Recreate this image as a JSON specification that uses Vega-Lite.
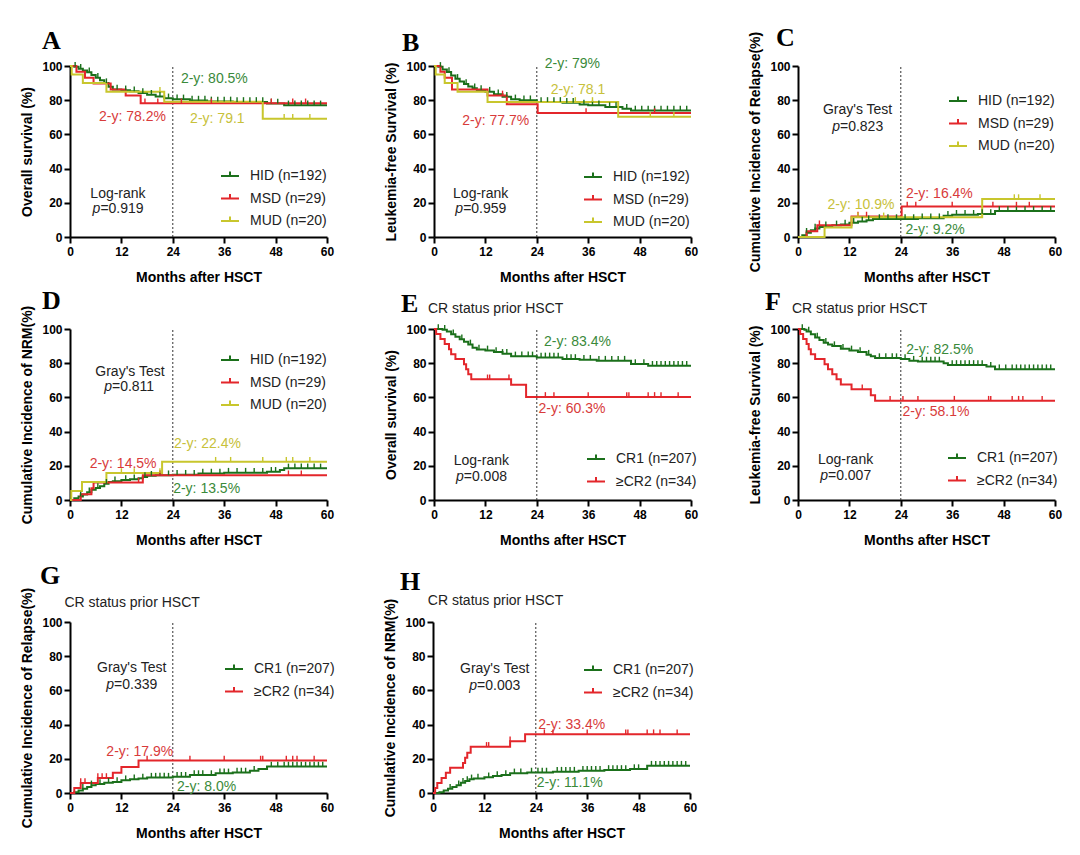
{
  "$schema": "https://vega.github.io/schema/vega-lite/v6.json",
  "background": "white",
  "padding": {"top": 25, "left": 20, "right": 5, "bottom": 5},
  "config": {
    "font": "Liberation Sans",
    "view": {"stroke": null},
    "axis": {"grid": false, "domainColor": "#000", "domainWidth": 2, "tickColor": "#000", "tickWidth": 2, "tickSize": 6,
      "labelFont": "Liberation Sans", "labelFontSize": 12, "labelFontWeight": "bold", "labelColor": "#000", "labelPadding": 2, "labelFlush": false, "labelOverlap": false,
      "titleFont": "Liberation Sans", "titleFontSize": 14, "titleFontWeight": "bold", "titleColor": "#000"},
    "axisX": {"labelPadding": 3, "titlePadding": 13},
    "axisY": {"titlePadding": 7},
    "legend": {"labelFont": "Liberation Sans", "labelFontSize": 14, "labelColor": "#222", "symbolSize": 324, "symbolStrokeWidth": 2, "rowPadding": 5.5, "padding": 0, "labelOffset": 10},
    "title": {"font": "Liberation Serif", "fontSize": 26, "fontWeight": "bold", "anchor": "start", "frame": "group", "baseline": "alphabetic", "color": "#000"},
    "text": {"font": "Liberation Sans", "fontSize": 14}
  },
  "datasets": {
    "curve": [
      {"p":"A","g":"HID","t":0,"v":100},{"p":"A","g":"HID","t":1,"v":99.5},{"p":"A","g":"HID","t":2,"v":98.4},{"p":"A","g":"HID","t":3,"v":97.4},{"p":"A","g":"HID","t":4,"v":96.3},{"p":"A","g":"HID","t":5,"v":94.7},{"p":"A","g":"HID","t":6,"v":93.2},{"p":"A","g":"HID","t":7,"v":91.6},{"p":"A","g":"HID","t":8,"v":90},{"p":"A","g":"HID","t":9,"v":87.9},{"p":"A","g":"HID","t":10,"v":86.3},{"p":"A","g":"HID","t":12,"v":85.8},{"p":"A","g":"HID","t":14,"v":85.2},{"p":"A","g":"HID","t":16,"v":84.2},{"p":"A","g":"HID","t":18,"v":83.2},{"p":"A","g":"HID","t":20,"v":82.1},{"p":"A","g":"HID","t":22,"v":81.1},{"p":"A","g":"HID","t":24,"v":80.5},{"p":"A","g":"HID","t":28,"v":79.8},{"p":"A","g":"HID","t":32,"v":79.3},{"p":"A","g":"HID","t":38,"v":79},{"p":"A","g":"HID","t":46,"v":78.1},{"p":"A","g":"HID","t":50,"v":77},{"p":"A","g":"HID","t":60,"v":77},
      {"p":"A","g":"MSD","t":0,"v":100},{"p":"A","g":"MSD","t":1.5,"v":96.6},{"p":"A","g":"MSD","t":3.5,"v":93.1},{"p":"A","g":"MSD","t":5.5,"v":89.7},{"p":"A","g":"MSD","t":9.5,"v":86.2},{"p":"A","g":"MSD","t":13,"v":82.8},{"p":"A","g":"MSD","t":16.5,"v":78.2},{"p":"A","g":"MSD","t":60,"v":78.2},
      {"p":"A","g":"MUD","t":0,"v":100},{"p":"A","g":"MUD","t":0.4,"v":95},{"p":"A","g":"MUD","t":3,"v":90},{"p":"A","g":"MUD","t":8.5,"v":85},{"p":"A","g":"MUD","t":22,"v":79.1},{"p":"A","g":"MUD","t":45,"v":69.2},{"p":"A","g":"MUD","t":60,"v":69.2},
      {"p":"B","g":"HID","t":0,"v":100},{"p":"B","g":"HID","t":1,"v":99.5},{"p":"B","g":"HID","t":2,"v":98},{"p":"B","g":"HID","t":3,"v":96.5},{"p":"B","g":"HID","t":4,"v":94.5},{"p":"B","g":"HID","t":5,"v":92.5},{"p":"B","g":"HID","t":6,"v":91},{"p":"B","g":"HID","t":7,"v":89.5},{"p":"B","g":"HID","t":8,"v":88},{"p":"B","g":"HID","t":9,"v":87},{"p":"B","g":"HID","t":10,"v":86},{"p":"B","g":"HID","t":12,"v":85},{"p":"B","g":"HID","t":14,"v":83.5},{"p":"B","g":"HID","t":16,"v":82},{"p":"B","g":"HID","t":18,"v":80.5},{"p":"B","g":"HID","t":20,"v":80},{"p":"B","g":"HID","t":24,"v":79},{"p":"B","g":"HID","t":30,"v":78.5},{"p":"B","g":"HID","t":34,"v":77.5},{"p":"B","g":"HID","t":36,"v":77},{"p":"B","g":"HID","t":40,"v":76},{"p":"B","g":"HID","t":44,"v":75},{"p":"B","g":"HID","t":46,"v":74},{"p":"B","g":"HID","t":60,"v":74},
      {"p":"B","g":"MSD","t":0,"v":100},{"p":"B","g":"MSD","t":1.5,"v":96.6},{"p":"B","g":"MSD","t":2.5,"v":93.1},{"p":"B","g":"MSD","t":4.2,"v":86.2},{"p":"B","g":"MSD","t":12.5,"v":82.8},{"p":"B","g":"MSD","t":17,"v":77.7},{"p":"B","g":"MSD","t":24.2,"v":72.5},{"p":"B","g":"MSD","t":60,"v":72.5},
      {"p":"B","g":"MUD","t":0,"v":100},{"p":"B","g":"MUD","t":0.4,"v":95},{"p":"B","g":"MUD","t":2.5,"v":90},{"p":"B","g":"MUD","t":5.5,"v":85},{"p":"B","g":"MUD","t":12.5,"v":79},{"p":"B","g":"MUD","t":43,"v":70.3},{"p":"B","g":"MUD","t":60,"v":70.3},
      {"p":"C","g":"HID","t":0,"v":0},{"p":"C","g":"HID","t":1,"v":1},{"p":"C","g":"HID","t":2,"v":2.5},{"p":"C","g":"HID","t":3,"v":4},{"p":"C","g":"HID","t":4,"v":5},{"p":"C","g":"HID","t":5,"v":5.8},{"p":"C","g":"HID","t":6,"v":6.3},{"p":"C","g":"HID","t":8,"v":6.8},{"p":"C","g":"HID","t":10,"v":7.3},{"p":"C","g":"HID","t":12,"v":8.3},{"p":"C","g":"HID","t":14,"v":9},{"p":"C","g":"HID","t":16,"v":9.8},{"p":"C","g":"HID","t":17.5,"v":10.5},{"p":"C","g":"HID","t":28,"v":11},{"p":"C","g":"HID","t":34,"v":12.5},{"p":"C","g":"HID","t":36,"v":13},{"p":"C","g":"HID","t":42,"v":13.5},{"p":"C","g":"HID","t":46,"v":15.2},{"p":"C","g":"HID","t":60,"v":15.2},
      {"p":"C","g":"MSD","t":0,"v":0},{"p":"C","g":"MSD","t":2,"v":3.4},{"p":"C","g":"MSD","t":4.5,"v":6.9},{"p":"C","g":"MSD","t":12.5,"v":12},{"p":"C","g":"MSD","t":24.2,"v":17.8},{"p":"C","g":"MSD","t":60,"v":17.8},
      {"p":"C","g":"MUD","t":0,"v":0},{"p":"C","g":"MUD","t":6.2,"v":5.6},{"p":"C","g":"MUD","t":12.5,"v":11.5},{"p":"C","g":"MUD","t":43,"v":22.2},{"p":"C","g":"MUD","t":60,"v":22.2},
      {"p":"D","g":"HID","t":0,"v":0},{"p":"D","g":"HID","t":1,"v":1},{"p":"D","g":"HID","t":2,"v":2},{"p":"D","g":"HID","t":3,"v":3.2},{"p":"D","g":"HID","t":4,"v":4.5},{"p":"D","g":"HID","t":5,"v":6},{"p":"D","g":"HID","t":6,"v":7},{"p":"D","g":"HID","t":7,"v":8},{"p":"D","g":"HID","t":8,"v":9.5},{"p":"D","g":"HID","t":9,"v":10.5},{"p":"D","g":"HID","t":10,"v":11},{"p":"D","g":"HID","t":12,"v":11.7},{"p":"D","g":"HID","t":14,"v":12.2},{"p":"D","g":"HID","t":16,"v":12.7},{"p":"D","g":"HID","t":17,"v":13.5},{"p":"D","g":"HID","t":18,"v":14.2},{"p":"D","g":"HID","t":20,"v":14.5},{"p":"D","g":"HID","t":24,"v":14.8},{"p":"D","g":"HID","t":30,"v":15.5},{"p":"D","g":"HID","t":36,"v":16},{"p":"D","g":"HID","t":46,"v":16.5},{"p":"D","g":"HID","t":49,"v":17.5},{"p":"D","g":"HID","t":50,"v":18.5},{"p":"D","g":"HID","t":60,"v":18.5},
      {"p":"D","g":"MSD","t":0,"v":0},{"p":"D","g":"MSD","t":2.5,"v":3.4},{"p":"D","g":"MSD","t":5,"v":6.9},{"p":"D","g":"MSD","t":5.5,"v":10.3},{"p":"D","g":"MSD","t":17,"v":14.5},{"p":"D","g":"MSD","t":60,"v":14.5},
      {"p":"D","g":"MUD","t":0,"v":0},{"p":"D","g":"MUD","t":0.3,"v":5.3},{"p":"D","g":"MUD","t":2.8,"v":10.5},{"p":"D","g":"MUD","t":8.5,"v":15.8},{"p":"D","g":"MUD","t":21.5,"v":22.4},{"p":"D","g":"MUD","t":60,"v":22.4},
      {"p":"E","g":"CR1","t":0,"v":100},{"p":"E","g":"CR1","t":2,"v":99.5},{"p":"E","g":"CR1","t":3,"v":98.5},{"p":"E","g":"CR1","t":4,"v":97},{"p":"E","g":"CR1","t":5,"v":95.5},{"p":"E","g":"CR1","t":6,"v":94},{"p":"E","g":"CR1","t":7,"v":92.5},{"p":"E","g":"CR1","t":8,"v":91},{"p":"E","g":"CR1","t":9,"v":89},{"p":"E","g":"CR1","t":10,"v":88},{"p":"E","g":"CR1","t":12,"v":87.5},{"p":"E","g":"CR1","t":14,"v":86.5},{"p":"E","g":"CR1","t":16,"v":85.5},{"p":"E","g":"CR1","t":18,"v":84},{"p":"E","g":"CR1","t":24,"v":83.4},{"p":"E","g":"CR1","t":30,"v":82.5},{"p":"E","g":"CR1","t":34,"v":82},{"p":"E","g":"CR1","t":38,"v":81.5},{"p":"E","g":"CR1","t":46,"v":79.5},{"p":"E","g":"CR1","t":50,"v":78.5},{"p":"E","g":"CR1","t":60,"v":78.5},
      {"p":"E","g":"≥CR2","t":0,"v":100},{"p":"E","g":"≥CR2","t":0.5,"v":97.1},{"p":"E","g":"≥CR2","t":1.5,"v":94.1},{"p":"E","g":"≥CR2","t":2.5,"v":91.2},{"p":"E","g":"≥CR2","t":3.5,"v":88.2},{"p":"E","g":"≥CR2","t":4,"v":85.3},{"p":"E","g":"≥CR2","t":5,"v":82.4},{"p":"E","g":"≥CR2","t":7,"v":79.4},{"p":"E","g":"≥CR2","t":7.5,"v":76.5},{"p":"E","g":"≥CR2","t":8,"v":73.5},{"p":"E","g":"≥CR2","t":8.7,"v":70.6},{"p":"E","g":"≥CR2","t":18,"v":67.4},{"p":"E","g":"≥CR2","t":21.5,"v":60.3},{"p":"E","g":"≥CR2","t":60,"v":60.3},
      {"p":"F","g":"CR1","t":0,"v":100},{"p":"F","g":"CR1","t":1.5,"v":99.5},{"p":"F","g":"CR1","t":2,"v":98.5},{"p":"F","g":"CR1","t":3,"v":97},{"p":"F","g":"CR1","t":4,"v":95},{"p":"F","g":"CR1","t":5,"v":93.5},{"p":"F","g":"CR1","t":6,"v":92},{"p":"F","g":"CR1","t":7,"v":91},{"p":"F","g":"CR1","t":8,"v":90},{"p":"F","g":"CR1","t":10,"v":88.5},{"p":"F","g":"CR1","t":12,"v":87.5},{"p":"F","g":"CR1","t":14,"v":86.5},{"p":"F","g":"CR1","t":16,"v":85},{"p":"F","g":"CR1","t":17,"v":84},{"p":"F","g":"CR1","t":18,"v":83},{"p":"F","g":"CR1","t":24,"v":82.5},{"p":"F","g":"CR1","t":26,"v":81.5},{"p":"F","g":"CR1","t":28,"v":81},{"p":"F","g":"CR1","t":34,"v":80},{"p":"F","g":"CR1","t":35,"v":79},{"p":"F","g":"CR1","t":44,"v":78},{"p":"F","g":"CR1","t":46,"v":76.5},{"p":"F","g":"CR1","t":60,"v":76.5},
      {"p":"F","g":"≥CR2","t":0,"v":100},{"p":"F","g":"≥CR2","t":0.5,"v":97.1},{"p":"F","g":"≥CR2","t":1.2,"v":94.1},{"p":"F","g":"≥CR2","t":2,"v":91.2},{"p":"F","g":"≥CR2","t":2.5,"v":88.2},{"p":"F","g":"≥CR2","t":3,"v":85.3},{"p":"F","g":"≥CR2","t":4,"v":82.4},{"p":"F","g":"≥CR2","t":6.2,"v":79.4},{"p":"F","g":"≥CR2","t":7,"v":76.5},{"p":"F","g":"≥CR2","t":8,"v":73.5},{"p":"F","g":"≥CR2","t":9,"v":70.6},{"p":"F","g":"≥CR2","t":10,"v":67.6},{"p":"F","g":"≥CR2","t":12.5,"v":64.7},{"p":"F","g":"≥CR2","t":17,"v":61.2},{"p":"F","g":"≥CR2","t":18,"v":58.1},{"p":"F","g":"≥CR2","t":60,"v":58.1},
      {"p":"G","g":"CR1","t":0,"v":0},{"p":"G","g":"CR1","t":1,"v":0.5},{"p":"G","g":"CR1","t":2,"v":1.5},{"p":"G","g":"CR1","t":3,"v":2.5},{"p":"G","g":"CR1","t":4,"v":3.5},{"p":"G","g":"CR1","t":5,"v":4.5},{"p":"G","g":"CR1","t":6,"v":5.3},{"p":"G","g":"CR1","t":8,"v":6},{"p":"G","g":"CR1","t":10,"v":6.5},{"p":"G","g":"CR1","t":12,"v":7.5},{"p":"G","g":"CR1","t":14,"v":8},{"p":"G","g":"CR1","t":16,"v":8.5},{"p":"G","g":"CR1","t":18,"v":9},{"p":"G","g":"CR1","t":24,"v":9.5},{"p":"G","g":"CR1","t":28,"v":10.5},{"p":"G","g":"CR1","t":34,"v":11.5},{"p":"G","g":"CR1","t":38,"v":12},{"p":"G","g":"CR1","t":42,"v":13},{"p":"G","g":"CR1","t":44,"v":14},{"p":"G","g":"CR1","t":46,"v":15.5},{"p":"G","g":"CR1","t":60,"v":15.5},
      {"p":"G","g":"≥CR2","t":0,"v":0},{"p":"G","g":"≥CR2","t":1,"v":2.9},{"p":"G","g":"≥CR2","t":2.5,"v":5.9},{"p":"G","g":"≥CR2","t":6.5,"v":8.8},{"p":"G","g":"≥CR2","t":10,"v":11.8},{"p":"G","g":"≥CR2","t":12,"v":15.2},{"p":"G","g":"≥CR2","t":16,"v":19},{"p":"G","g":"≥CR2","t":60,"v":19},
      {"p":"H","g":"CR1","t":0,"v":0},{"p":"H","g":"CR1","t":1.5,"v":0.5},{"p":"H","g":"CR1","t":2.5,"v":1.5},{"p":"H","g":"CR1","t":3.5,"v":2.5},{"p":"H","g":"CR1","t":4.5,"v":3.5},{"p":"H","g":"CR1","t":5.5,"v":4.5},{"p":"H","g":"CR1","t":6.5,"v":6},{"p":"H","g":"CR1","t":7.5,"v":7},{"p":"H","g":"CR1","t":8.5,"v":8},{"p":"H","g":"CR1","t":9.5,"v":8.5},{"p":"H","g":"CR1","t":12,"v":9.2},{"p":"H","g":"CR1","t":14,"v":10},{"p":"H","g":"CR1","t":16,"v":10.5},{"p":"H","g":"CR1","t":18,"v":11.5},{"p":"H","g":"CR1","t":22,"v":12},{"p":"H","g":"CR1","t":28,"v":12.5},{"p":"H","g":"CR1","t":34,"v":13},{"p":"H","g":"CR1","t":40,"v":13.5},{"p":"H","g":"CR1","t":46,"v":14},{"p":"H","g":"CR1","t":50,"v":16},{"p":"H","g":"CR1","t":60,"v":16},
      {"p":"H","g":"≥CR2","t":0,"v":0},{"p":"H","g":"≥CR2","t":0.5,"v":2.9},{"p":"H","g":"≥CR2","t":1,"v":5.9},{"p":"H","g":"≥CR2","t":2,"v":8.8},{"p":"H","g":"≥CR2","t":3,"v":11.8},{"p":"H","g":"≥CR2","t":4,"v":14.7},{"p":"H","g":"≥CR2","t":7,"v":17.6},{"p":"H","g":"≥CR2","t":7.5,"v":20.6},{"p":"H","g":"≥CR2","t":8,"v":23.5},{"p":"H","g":"≥CR2","t":8.8,"v":27},{"p":"H","g":"≥CR2","t":18,"v":30.3},{"p":"H","g":"≥CR2","t":21.5,"v":34.4},{"p":"H","g":"≥CR2","t":60,"v":34.4}
    ],
    "cens": [
      {"p":"A","g":"HID","t":1.2,"v":99.5},{"p":"A","g":"HID","t":2.5,"v":98.4},{"p":"A","g":"HID","t":4.5,"v":96.3},{"p":"A","g":"HID","t":6.5,"v":93.2},{"p":"A","g":"HID","t":8.5,"v":90},{"p":"A","g":"HID","t":11,"v":86.3},{"p":"A","g":"HID","t":13,"v":85.8},{"p":"A","g":"HID","t":15,"v":85.2},{"p":"A","g":"HID","t":17,"v":84.2},{"p":"A","g":"HID","t":19,"v":83.2},{"p":"A","g":"HID","t":21,"v":82.1},{"p":"A","g":"HID","t":23,"v":81.1},{"p":"A","g":"HID","t":25,"v":80.5},{"p":"A","g":"HID","t":26.5,"v":80.5},{"p":"A","g":"HID","t":28.5,"v":79.8},{"p":"A","g":"HID","t":30,"v":79.8},{"p":"A","g":"HID","t":31.5,"v":79.8},{"p":"A","g":"HID","t":33,"v":79.3},{"p":"A","g":"HID","t":34.5,"v":79.3},{"p":"A","g":"HID","t":36,"v":79.3},{"p":"A","g":"HID","t":37.5,"v":79.3},{"p":"A","g":"HID","t":39,"v":79},{"p":"A","g":"HID","t":40.5,"v":79},{"p":"A","g":"HID","t":42,"v":79},{"p":"A","g":"HID","t":43.5,"v":79},{"p":"A","g":"HID","t":45,"v":79},{"p":"A","g":"HID","t":47,"v":78.1},{"p":"A","g":"HID","t":48.5,"v":78.1},{"p":"A","g":"HID","t":51,"v":77},{"p":"A","g":"HID","t":52.5,"v":77},{"p":"A","g":"HID","t":54,"v":77},{"p":"A","g":"HID","t":55.5,"v":77},{"p":"A","g":"HID","t":57,"v":77},{"p":"A","g":"HID","t":58.5,"v":77},
      {"p":"A","g":"MSD","t":17.5,"v":78.2},{"p":"A","g":"MSD","t":20.5,"v":78.2},{"p":"A","g":"MSD","t":26,"v":78.2},{"p":"A","g":"MSD","t":33,"v":78.2},{"p":"A","g":"MSD","t":47,"v":78.2},{"p":"A","g":"MSD","t":52,"v":78.2},{"p":"A","g":"MSD","t":55,"v":78.2},
      {"p":"A","g":"MUD","t":21,"v":85},{"p":"A","g":"MUD","t":50,"v":69.2},{"p":"A","g":"MUD","t":52,"v":69.2},{"p":"A","g":"MUD","t":56,"v":69.2},
      {"p":"B","g":"HID","t":1.5,"v":99.5},{"p":"B","g":"HID","t":3.5,"v":96.5},{"p":"B","g":"HID","t":5.5,"v":92.5},{"p":"B","g":"HID","t":7.5,"v":89.5},{"p":"B","g":"HID","t":9.5,"v":87},{"p":"B","g":"HID","t":11,"v":86},{"p":"B","g":"HID","t":13,"v":85},{"p":"B","g":"HID","t":15,"v":83.5},{"p":"B","g":"HID","t":17,"v":82},{"p":"B","g":"HID","t":19,"v":80.5},{"p":"B","g":"HID","t":21,"v":80},{"p":"B","g":"HID","t":22.5,"v":80},{"p":"B","g":"HID","t":25,"v":79},{"p":"B","g":"HID","t":26.5,"v":79},{"p":"B","g":"HID","t":28,"v":79},{"p":"B","g":"HID","t":29.5,"v":79},{"p":"B","g":"HID","t":31,"v":78.5},{"p":"B","g":"HID","t":32.5,"v":78.5},{"p":"B","g":"HID","t":35,"v":77.5},{"p":"B","g":"HID","t":37,"v":77},{"p":"B","g":"HID","t":38.5,"v":77},{"p":"B","g":"HID","t":41,"v":76},{"p":"B","g":"HID","t":42.5,"v":76},{"p":"B","g":"HID","t":45,"v":75},{"p":"B","g":"HID","t":47,"v":74},{"p":"B","g":"HID","t":48.5,"v":74},{"p":"B","g":"HID","t":50,"v":74},{"p":"B","g":"HID","t":51.5,"v":74},{"p":"B","g":"HID","t":53,"v":74},{"p":"B","g":"HID","t":54.5,"v":74},{"p":"B","g":"HID","t":56,"v":74},{"p":"B","g":"HID","t":57.5,"v":74},{"p":"B","g":"HID","t":59,"v":74},
      {"p":"B","g":"MSD","t":16,"v":82.8},{"p":"B","g":"MSD","t":35.5,"v":72.5},{"p":"B","g":"MSD","t":51.5,"v":72.5},
      {"p":"B","g":"MUD","t":33,"v":79},{"p":"B","g":"MUD","t":37,"v":79},{"p":"B","g":"MUD","t":50.5,"v":70.3},{"p":"B","g":"MUD","t":56,"v":70.3},
      {"p":"C","g":"HID","t":2,"v":2.5},{"p":"C","g":"HID","t":4,"v":5},{"p":"C","g":"HID","t":6.5,"v":6.3},{"p":"C","g":"HID","t":9,"v":6.8},{"p":"C","g":"HID","t":11,"v":7.3},{"p":"C","g":"HID","t":13,"v":8.3},{"p":"C","g":"HID","t":15,"v":9},{"p":"C","g":"HID","t":16.5,"v":9.8},{"p":"C","g":"HID","t":19,"v":10.5},{"p":"C","g":"HID","t":21,"v":10.5},{"p":"C","g":"HID","t":23,"v":10.5},{"p":"C","g":"HID","t":25,"v":10.5},{"p":"C","g":"HID","t":27,"v":10.5},{"p":"C","g":"HID","t":29,"v":11},{"p":"C","g":"HID","t":31,"v":11},{"p":"C","g":"HID","t":33,"v":11},{"p":"C","g":"HID","t":35,"v":12.5},{"p":"C","g":"HID","t":37,"v":13},{"p":"C","g":"HID","t":39,"v":13},{"p":"C","g":"HID","t":41,"v":13},{"p":"C","g":"HID","t":43,"v":13.5},{"p":"C","g":"HID","t":45,"v":13.5},{"p":"C","g":"HID","t":47,"v":15.2},{"p":"C","g":"HID","t":49,"v":15.2},{"p":"C","g":"HID","t":51,"v":15.2},{"p":"C","g":"HID","t":53,"v":15.2},{"p":"C","g":"HID","t":55,"v":15.2},{"p":"C","g":"HID","t":57,"v":15.2},{"p":"C","g":"HID","t":59,"v":15.2},
      {"p":"C","g":"MSD","t":5,"v":6.9},{"p":"C","g":"MSD","t":14,"v":12},{"p":"C","g":"MSD","t":16,"v":12},{"p":"C","g":"MSD","t":25.5,"v":17.8},{"p":"C","g":"MSD","t":27.5,"v":17.8},{"p":"C","g":"MSD","t":36,"v":17.8},{"p":"C","g":"MSD","t":45.5,"v":17.8},{"p":"C","g":"MSD","t":51,"v":17.8},{"p":"C","g":"MSD","t":54,"v":17.8},
      {"p":"C","g":"MUD","t":14,"v":11.5},{"p":"C","g":"MUD","t":20,"v":11.5},{"p":"C","g":"MUD","t":50.5,"v":22.2},{"p":"C","g":"MUD","t":51.5,"v":22.2},{"p":"C","g":"MUD","t":56.5,"v":22.2},
      {"p":"D","g":"HID","t":2.5,"v":2},{"p":"D","g":"HID","t":4.5,"v":4.5},{"p":"D","g":"HID","t":6.5,"v":7},{"p":"D","g":"HID","t":8.5,"v":9.5},{"p":"D","g":"HID","t":10.5,"v":11},{"p":"D","g":"HID","t":13,"v":11.7},{"p":"D","g":"HID","t":15,"v":12.2},{"p":"D","g":"HID","t":17.5,"v":13.5},{"p":"D","g":"HID","t":19,"v":14.2},{"p":"D","g":"HID","t":21,"v":14.5},{"p":"D","g":"HID","t":23,"v":14.5},{"p":"D","g":"HID","t":25,"v":14.8},{"p":"D","g":"HID","t":27,"v":14.8},{"p":"D","g":"HID","t":29,"v":14.8},{"p":"D","g":"HID","t":31,"v":15.5},{"p":"D","g":"HID","t":33,"v":15.5},{"p":"D","g":"HID","t":35,"v":15.5},{"p":"D","g":"HID","t":37,"v":16},{"p":"D","g":"HID","t":39,"v":16},{"p":"D","g":"HID","t":41,"v":16},{"p":"D","g":"HID","t":43,"v":16},{"p":"D","g":"HID","t":45,"v":16},{"p":"D","g":"HID","t":47,"v":16.5},{"p":"D","g":"HID","t":48,"v":16.5},{"p":"D","g":"HID","t":51,"v":18.5},{"p":"D","g":"HID","t":52.5,"v":18.5},{"p":"D","g":"HID","t":54,"v":18.5},{"p":"D","g":"HID","t":55.5,"v":18.5},{"p":"D","g":"HID","t":57,"v":18.5},{"p":"D","g":"HID","t":58.5,"v":18.5},
      {"p":"D","g":"MSD","t":16,"v":10.3},{"p":"D","g":"MSD","t":21,"v":14.5},{"p":"D","g":"MSD","t":51,"v":14.5},{"p":"D","g":"MSD","t":54,"v":14.5},
      {"p":"D","g":"MUD","t":12,"v":15.8},{"p":"D","g":"MUD","t":15,"v":15.8},{"p":"D","g":"MUD","t":21,"v":15.8},{"p":"D","g":"MUD","t":34,"v":22.4},{"p":"D","g":"MUD","t":37.5,"v":22.4},{"p":"D","g":"MUD","t":45,"v":22.4},{"p":"D","g":"MUD","t":50.5,"v":22.4},{"p":"D","g":"MUD","t":52,"v":22.4},{"p":"D","g":"MUD","t":56,"v":22.4},
      {"p":"E","g":"CR1","t":1,"v":100},{"p":"E","g":"CR1","t":2.5,"v":99.5},{"p":"E","g":"CR1","t":4.5,"v":97},{"p":"E","g":"CR1","t":6.5,"v":94},{"p":"E","g":"CR1","t":8.5,"v":91},{"p":"E","g":"CR1","t":10.5,"v":88},{"p":"E","g":"CR1","t":12.5,"v":87.5},{"p":"E","g":"CR1","t":14.5,"v":86.5},{"p":"E","g":"CR1","t":16,"v":85.5},{"p":"E","g":"CR1","t":17,"v":85.5},{"p":"E","g":"CR1","t":19,"v":84},{"p":"E","g":"CR1","t":20.5,"v":84},{"p":"E","g":"CR1","t":22,"v":84},{"p":"E","g":"CR1","t":23,"v":84},{"p":"E","g":"CR1","t":25,"v":83.4},{"p":"E","g":"CR1","t":26,"v":83.4},{"p":"E","g":"CR1","t":27,"v":83.4},{"p":"E","g":"CR1","t":28,"v":83.4},{"p":"E","g":"CR1","t":29,"v":83.4},{"p":"E","g":"CR1","t":31,"v":82.5},{"p":"E","g":"CR1","t":32,"v":82.5},{"p":"E","g":"CR1","t":33,"v":82.5},{"p":"E","g":"CR1","t":35,"v":82},{"p":"E","g":"CR1","t":36.5,"v":82},{"p":"E","g":"CR1","t":38.5,"v":81.5},{"p":"E","g":"CR1","t":40,"v":81.5},{"p":"E","g":"CR1","t":41.5,"v":81.5},{"p":"E","g":"CR1","t":43,"v":81.5},{"p":"E","g":"CR1","t":44.5,"v":81.5},{"p":"E","g":"CR1","t":47,"v":79.5},{"p":"E","g":"CR1","t":49,"v":79.5},{"p":"E","g":"CR1","t":51,"v":78.5},{"p":"E","g":"CR1","t":52,"v":78.5},{"p":"E","g":"CR1","t":53,"v":78.5},{"p":"E","g":"CR1","t":54,"v":78.5},{"p":"E","g":"CR1","t":55,"v":78.5},{"p":"E","g":"CR1","t":56,"v":78.5},{"p":"E","g":"CR1","t":57,"v":78.5},{"p":"E","g":"CR1","t":58,"v":78.5},{"p":"E","g":"CR1","t":59,"v":78.5},
      {"p":"E","g":"≥CR2","t":12.5,"v":70.6},{"p":"E","g":"≥CR2","t":13,"v":70.6},{"p":"E","g":"≥CR2","t":17.5,"v":70.6},{"p":"E","g":"≥CR2","t":26,"v":60.3},{"p":"E","g":"≥CR2","t":28,"v":60.3},{"p":"E","g":"≥CR2","t":36,"v":60.3},{"p":"E","g":"≥CR2","t":45,"v":60.3},{"p":"E","g":"≥CR2","t":45.5,"v":60.3},{"p":"E","g":"≥CR2","t":50,"v":60.3},{"p":"E","g":"≥CR2","t":51.5,"v":60.3},{"p":"E","g":"≥CR2","t":53,"v":60.3},{"p":"E","g":"≥CR2","t":57,"v":60.3},
      {"p":"F","g":"CR1","t":1,"v":100},{"p":"F","g":"CR1","t":2.5,"v":98.5},{"p":"F","g":"CR1","t":4.5,"v":95},{"p":"F","g":"CR1","t":6.5,"v":92},{"p":"F","g":"CR1","t":8.5,"v":90},{"p":"F","g":"CR1","t":10.5,"v":88.5},{"p":"F","g":"CR1","t":12.5,"v":87.5},{"p":"F","g":"CR1","t":14.5,"v":86.5},{"p":"F","g":"CR1","t":16.5,"v":85},{"p":"F","g":"CR1","t":19,"v":83},{"p":"F","g":"CR1","t":20.5,"v":83},{"p":"F","g":"CR1","t":22,"v":83},{"p":"F","g":"CR1","t":23,"v":83},{"p":"F","g":"CR1","t":25,"v":82.5},{"p":"F","g":"CR1","t":27,"v":81.5},{"p":"F","g":"CR1","t":29,"v":81},{"p":"F","g":"CR1","t":30,"v":81},{"p":"F","g":"CR1","t":31,"v":81},{"p":"F","g":"CR1","t":32,"v":81},{"p":"F","g":"CR1","t":33,"v":81},{"p":"F","g":"CR1","t":36,"v":79},{"p":"F","g":"CR1","t":37,"v":79},{"p":"F","g":"CR1","t":38,"v":79},{"p":"F","g":"CR1","t":39,"v":79},{"p":"F","g":"CR1","t":40,"v":79},{"p":"F","g":"CR1","t":41,"v":79},{"p":"F","g":"CR1","t":42,"v":79},{"p":"F","g":"CR1","t":43,"v":79},{"p":"F","g":"CR1","t":45,"v":78},{"p":"F","g":"CR1","t":47,"v":76.5},{"p":"F","g":"CR1","t":48.5,"v":76.5},{"p":"F","g":"CR1","t":50,"v":76.5},{"p":"F","g":"CR1","t":51,"v":76.5},{"p":"F","g":"CR1","t":52,"v":76.5},{"p":"F","g":"CR1","t":53,"v":76.5},{"p":"F","g":"CR1","t":54,"v":76.5},{"p":"F","g":"CR1","t":55,"v":76.5},{"p":"F","g":"CR1","t":56,"v":76.5},{"p":"F","g":"CR1","t":57,"v":76.5},{"p":"F","g":"CR1","t":58,"v":76.5},{"p":"F","g":"CR1","t":59,"v":76.5},
      {"p":"F","g":"≥CR2","t":15,"v":64.7},{"p":"F","g":"≥CR2","t":21.5,"v":58.1},{"p":"F","g":"≥CR2","t":24.5,"v":58.1},{"p":"F","g":"≥CR2","t":28,"v":58.1},{"p":"F","g":"≥CR2","t":36.5,"v":58.1},{"p":"F","g":"≥CR2","t":44.5,"v":58.1},{"p":"F","g":"≥CR2","t":45,"v":58.1},{"p":"F","g":"≥CR2","t":50,"v":58.1},{"p":"F","g":"≥CR2","t":51.5,"v":58.1},{"p":"F","g":"≥CR2","t":52.5,"v":58.1},{"p":"F","g":"≥CR2","t":57,"v":58.1},
      {"p":"G","g":"CR1","t":3,"v":2.5},{"p":"G","g":"CR1","t":5,"v":4.5},{"p":"G","g":"CR1","t":7,"v":5.3},{"p":"G","g":"CR1","t":9,"v":6},{"p":"G","g":"CR1","t":11,"v":6.5},{"p":"G","g":"CR1","t":13,"v":7.5},{"p":"G","g":"CR1","t":15,"v":8},{"p":"G","g":"CR1","t":17,"v":8.5},{"p":"G","g":"CR1","t":19,"v":9},{"p":"G","g":"CR1","t":20,"v":9},{"p":"G","g":"CR1","t":21,"v":9},{"p":"G","g":"CR1","t":22,"v":9},{"p":"G","g":"CR1","t":23,"v":9},{"p":"G","g":"CR1","t":25,"v":9.5},{"p":"G","g":"CR1","t":26,"v":9.5},{"p":"G","g":"CR1","t":27,"v":9.5},{"p":"G","g":"CR1","t":29,"v":10.5},{"p":"G","g":"CR1","t":30,"v":10.5},{"p":"G","g":"CR1","t":31,"v":10.5},{"p":"G","g":"CR1","t":33,"v":10.5},{"p":"G","g":"CR1","t":35,"v":11.5},{"p":"G","g":"CR1","t":36,"v":11.5},{"p":"G","g":"CR1","t":37,"v":11.5},{"p":"G","g":"CR1","t":39,"v":12},{"p":"G","g":"CR1","t":40,"v":12},{"p":"G","g":"CR1","t":41,"v":12},{"p":"G","g":"CR1","t":43,"v":13},{"p":"G","g":"CR1","t":47,"v":15.5},{"p":"G","g":"CR1","t":48.5,"v":15.5},{"p":"G","g":"CR1","t":50,"v":15.5},{"p":"G","g":"CR1","t":51,"v":15.5},{"p":"G","g":"CR1","t":52,"v":15.5},{"p":"G","g":"CR1","t":53,"v":15.5},{"p":"G","g":"CR1","t":54,"v":15.5},{"p":"G","g":"CR1","t":55,"v":15.5},{"p":"G","g":"CR1","t":56,"v":15.5},{"p":"G","g":"CR1","t":57,"v":15.5},{"p":"G","g":"CR1","t":58,"v":15.5},{"p":"G","g":"CR1","t":59,"v":15.5},
      {"p":"G","g":"≥CR2","t":2.5,"v":5.9},{"p":"G","g":"≥CR2","t":3.5,"v":5.9},{"p":"G","g":"≥CR2","t":6.5,"v":8.8},{"p":"G","g":"≥CR2","t":7.5,"v":8.8},{"p":"G","g":"≥CR2","t":8.5,"v":8.8},{"p":"G","g":"≥CR2","t":18,"v":19},{"p":"G","g":"≥CR2","t":28,"v":19},{"p":"G","g":"≥CR2","t":36,"v":19},{"p":"G","g":"≥CR2","t":44.5,"v":19},{"p":"G","g":"≥CR2","t":45,"v":19},{"p":"G","g":"≥CR2","t":50.5,"v":19},{"p":"G","g":"≥CR2","t":52,"v":19},{"p":"G","g":"≥CR2","t":53,"v":19},{"p":"G","g":"≥CR2","t":57,"v":19},
      {"p":"H","g":"CR1","t":4,"v":2.5},{"p":"H","g":"CR1","t":6,"v":4.5},{"p":"H","g":"CR1","t":7,"v":6},{"p":"H","g":"CR1","t":8,"v":7},{"p":"H","g":"CR1","t":9,"v":8},{"p":"H","g":"CR1","t":10.5,"v":8.5},{"p":"H","g":"CR1","t":13,"v":9.2},{"p":"H","g":"CR1","t":15,"v":10},{"p":"H","g":"CR1","t":17,"v":10.5},{"p":"H","g":"CR1","t":19,"v":11.5},{"p":"H","g":"CR1","t":20.5,"v":11.5},{"p":"H","g":"CR1","t":23,"v":12},{"p":"H","g":"CR1","t":24.5,"v":12},{"p":"H","g":"CR1","t":25.5,"v":12},{"p":"H","g":"CR1","t":26.5,"v":12},{"p":"H","g":"CR1","t":29,"v":12.5},{"p":"H","g":"CR1","t":30,"v":12.5},{"p":"H","g":"CR1","t":31,"v":12.5},{"p":"H","g":"CR1","t":32,"v":12.5},{"p":"H","g":"CR1","t":33,"v":12.5},{"p":"H","g":"CR1","t":35,"v":13},{"p":"H","g":"CR1","t":36,"v":13},{"p":"H","g":"CR1","t":37,"v":13},{"p":"H","g":"CR1","t":38,"v":13},{"p":"H","g":"CR1","t":39,"v":13},{"p":"H","g":"CR1","t":41,"v":13.5},{"p":"H","g":"CR1","t":42,"v":13.5},{"p":"H","g":"CR1","t":43,"v":13.5},{"p":"H","g":"CR1","t":44,"v":13.5},{"p":"H","g":"CR1","t":45,"v":13.5},{"p":"H","g":"CR1","t":47,"v":14},{"p":"H","g":"CR1","t":48,"v":14},{"p":"H","g":"CR1","t":51,"v":16},{"p":"H","g":"CR1","t":52,"v":16},{"p":"H","g":"CR1","t":53,"v":16},{"p":"H","g":"CR1","t":54,"v":16},{"p":"H","g":"CR1","t":55,"v":16},{"p":"H","g":"CR1","t":56,"v":16},{"p":"H","g":"CR1","t":57,"v":16},{"p":"H","g":"CR1","t":58,"v":16},{"p":"H","g":"CR1","t":59,"v":16},
      {"p":"H","g":"≥CR2","t":12.5,"v":27},{"p":"H","g":"≥CR2","t":13,"v":27},{"p":"H","g":"≥CR2","t":18,"v":30.3},{"p":"H","g":"≥CR2","t":26,"v":34.4},{"p":"H","g":"≥CR2","t":28,"v":34.4},{"p":"H","g":"≥CR2","t":36,"v":34.4},{"p":"H","g":"≥CR2","t":45,"v":34.4},{"p":"H","g":"≥CR2","t":45.5,"v":34.4},{"p":"H","g":"≥CR2","t":50,"v":34.4},{"p":"H","g":"≥CR2","t":51.5,"v":34.4},{"p":"H","g":"≥CR2","t":53,"v":34.4},{"p":"H","g":"≥CR2","t":57,"v":34.4}
    ],
    "notes": [
      {"p":"A","k":"c","g":"HID","t":33.7,"v":92.5,"txt":"2-y: 80.5%"},{"p":"A","k":"c","g":"MSD","t":14.6,"v":70,"txt":"2-y: 78.2%"},{"p":"A","k":"c","g":"MUD","t":34.4,"v":69,"txt":"2-y: 79.1"},
      {"p":"A","k":"b","t":11.2,"v":25.3,"txt":"Log-rank"},{"p":"A","k":"i","t":7.1,"v":16.5,"txt":"p"},{"p":"A","k":"r","t":7.1,"v":16.5,"txt":"=0.919"},
      {"p":"B","k":"c","g":"HID","t":32.3,"v":101,"txt":"2-y: 79%"},{"p":"B","k":"c","g":"MUD","t":33.6,"v":86,"txt":"2-y: 78.1"},{"p":"B","k":"c","g":"MSD","t":14.4,"v":68,"txt":"2-y: 77.7%"},
      {"p":"B","k":"b","t":10.9,"v":25.3,"txt":"Log-rank"},{"p":"B","k":"i","t":6.8,"v":16.5,"txt":"p"},{"p":"B","k":"r","t":6.8,"v":16.5,"txt":"=0.959"},
      {"p":"C","k":"c","g":"MUD","t":14.7,"v":19,"txt":"2-y: 10.9%"},{"p":"C","k":"c","g":"MSD","t":33,"v":25.2,"txt":"2-y: 16.4%"},{"p":"C","k":"c","g":"HID","t":32,"v":4.3,"txt":"2-y: 9.2%"},
      {"p":"C","k":"b","t":13.9,"v":74.5,"txt":"Gray's Test"},{"p":"C","k":"i","t":9.8,"v":64.2,"txt":"p"},{"p":"C","k":"r","t":9.8,"v":64.2,"txt":"=0.823"},
      {"p":"D","k":"c","g":"MUD","t":32.1,"v":32.6,"txt":"2-y: 22.4%"},{"p":"D","k":"c","g":"MSD","t":12.4,"v":20.9,"txt":"2-y: 14.5%"},{"p":"D","k":"c","g":"HID","t":31.9,"v":6.6,"txt":"2-y: 13.5%"},
      {"p":"D","k":"b","t":14,"v":74.6,"txt":"Gray's Test"},{"p":"D","k":"i","t":9.8,"v":65.8,"txt":"p"},{"p":"D","k":"r","t":9.8,"v":65.8,"txt":"=0.811"},
      {"p":"E","k":"c","g":"CR1","t":33.5,"v":92.6,"txt":"2-y: 83.4%"},{"p":"E","k":"c","g":"≥CR2","t":32.2,"v":53.2,"txt":"2-y: 60.3%"},
      {"p":"E","k":"b","t":11.05,"v":23,"txt":"Log-rank"},{"p":"E","k":"i","t":6.95,"v":13.7,"txt":"p"},{"p":"E","k":"r","t":6.95,"v":13.7,"txt":"=0.008"},{"p":"E","k":"s","t":-1.4,"v":111.5,"txt":"CR status prior HSCT"},
      {"p":"F","k":"c","g":"CR1","t":33.1,"v":87.9,"txt":"2-y: 82.5%"},{"p":"F","k":"c","g":"≥CR2","t":32.2,"v":51.2,"txt":"2-y: 58.1%"},
      {"p":"F","k":"b","t":11.1,"v":23.4,"txt":"Log-rank"},{"p":"F","k":"i","t":7,"v":14.1,"txt":"p"},{"p":"F","k":"r","t":7,"v":14.1,"txt":"=0.007"},{"p":"F","k":"s","t":-1.4,"v":111.7,"txt":"CR status prior HSCT"},
      {"p":"G","k":"c","g":"≥CR2","t":16.3,"v":23.7,"txt":"2-y: 17.9%"},{"p":"G","k":"c","g":"CR1","t":31.9,"v":3.7,"txt":"2-y: 8.0%"},
      {"p":"G","k":"b","t":14.4,"v":72.9,"txt":"Gray's Test"},{"p":"G","k":"i","t":10.3,"v":63.2,"txt":"p"},{"p":"G","k":"r","t":10.3,"v":63.2,"txt":"=0.339"},{"p":"G","k":"s","t":-1.3,"v":111.3,"txt":"CR status prior HSCT"},
      {"p":"H","k":"c","g":"≥CR2","t":32.4,"v":39.7,"txt":"2-y: 33.4%"},{"p":"H","k":"c","g":"CR1","t":31.9,"v":5.7,"txt":"2-y: 11.1%"},
      {"p":"H","k":"b","t":14.4,"v":72.4,"txt":"Gray's Test"},{"p":"H","k":"i","t":10.3,"v":62.8,"txt":"p"},{"p":"H","k":"r","t":10.3,"v":62.8,"txt":"=0.003"},{"p":"H","k":"s","t":-1.2,"v":112,"txt":"CR status prior HSCT"}
    ]
  },
  "resolve": {"scale": {"color": "independent", "fill": "independent"}},
  "spacing": 16,
  "vconcat": [
    {
      "spacing": 4,
      "resolve": {"scale": {"color": "independent", "fill": "independent"}},
      "vconcat": [
        {
          "bounds": "flush",
          "spacing": 107,
          "resolve": {"scale": {"color": "independent", "fill": "independent"}},
          "hconcat": [
            {
              "width": 257, "height": 171,
              "title": {"text": "A", "dx": -28, "offset": 5},
              "layer": [
                {"data": {"values": [{}]}, "mark": {"type": "rule", "color": "#333", "strokeDash": [2, 2], "strokeWidth": 1}, "encoding": {"x": {"datum": 24, "type": "quantitative"}, "y": {"datum": 0, "type": "quantitative"}, "y2": {"datum": 100}}},
                {"data": {"name": "curve"}, "transform": [{"filter": "datum.p == 'A'"}], "mark": {"type": "line", "interpolate": "step-after", "strokeWidth": 2},
                  "encoding": {
                    "x": {"field": "t", "type": "quantitative", "scale": {"domain": [0, 60], "nice": false}, "axis": {"values": [0, 12, 24, 36, 48, 60], "tickCount": 10, "title": "Months after HSCT"}},
                    "y": {"field": "v", "type": "quantitative", "scale": {"domain": [0, 100], "nice": false}, "axis": {"values": [0, 20, 40, 60, 80, 100], "tickCount": 10, "title": "Overall survival (%)"}},
                    "color": {"field": "g", "type": "nominal", "scale": {"domain": ["HID", "MSD", "MUD"], "range": ["#1b701b", "#e3262b", "#c8c62d"]},
                      "legend": {"orient": "none", "legendX": 150, "legendY": 100, "title": null, "symbolType": "M-1,0L1,0M0,0L0,-0.5", "labelExpr": "datum.label == 'HID' ? 'HID (n=192)' : datum.label == 'MSD' ? 'MSD (n=29)' : 'MUD (n=20)'"}}}},
                {"data": {"name": "cens"}, "transform": [{"filter": "datum.p == 'A'"}], "mark": {"type": "point", "shape": "M0,0L0,-1", "size": 90, "filled": false, "strokeWidth": 1.4, "opacity": 1},
                  "encoding": {"x": {"field": "t", "type": "quantitative"}, "y": {"field": "v", "type": "quantitative"}, "color": {"field": "g", "type": "nominal", "legend": null}}},
                {"data": {"name": "notes"}, "transform": [{"filter": "datum.p == 'A' && datum.k == 'c'"}], "mark": {"type": "text"},
                  "encoding": {"x": {"field": "t", "type": "quantitative"}, "y": {"field": "v", "type": "quantitative"}, "text": {"field": "txt"}, "fill": {"field": "g", "type": "nominal", "scale": {"domain": ["HID", "MSD", "MUD"], "range": ["#3a8a3a", "#d83b3b", "#c7c13a"]}, "legend": null}}},
                {"data": {"name": "notes"}, "transform": [{"filter": "datum.p == 'A' && datum.k == 'b'"}], "mark": {"type": "text", "color": "#222"}, "encoding": {"x": {"field": "t", "type": "quantitative"}, "y": {"field": "v", "type": "quantitative"}, "text": {"field": "txt"}}},
                {"data": {"name": "notes"}, "transform": [{"filter": "datum.p == 'A' && datum.k == 'i'"}], "mark": {"type": "text", "color": "#222", "fontStyle": "italic", "align": "right"}, "encoding": {"x": {"field": "t", "type": "quantitative"}, "y": {"field": "v", "type": "quantitative"}, "text": {"field": "txt"}}},
                {"data": {"name": "notes"}, "transform": [{"filter": "datum.p == 'A' && datum.k == 'r'"}], "mark": {"type": "text", "color": "#222", "align": "left"}, "encoding": {"x": {"field": "t", "type": "quantitative"}, "y": {"field": "v", "type": "quantitative"}, "text": {"field": "txt"}}}
              ]
            },
            {
              "width": 257, "height": 171,
              "title": {"text": "B", "dx": -32, "offset": 1},
              "layer": [
                {"data": {"values": [{}]}, "mark": {"type": "rule", "color": "#333", "strokeDash": [2, 2], "strokeWidth": 1}, "encoding": {"x": {"datum": 24, "type": "quantitative"}, "y": {"datum": 0, "type": "quantitative"}, "y2": {"datum": 100}}},
                {"data": {"name": "curve"}, "transform": [{"filter": "datum.p == 'B'"}], "mark": {"type": "line", "interpolate": "step-after", "strokeWidth": 2},
                  "encoding": {
                    "x": {"field": "t", "type": "quantitative", "scale": {"domain": [0, 60], "nice": false}, "axis": {"values": [0, 12, 24, 36, 48, 60], "tickCount": 10, "title": "Months after HSCT"}},
                    "y": {"field": "v", "type": "quantitative", "scale": {"domain": [0, 100], "nice": false}, "axis": {"values": [0, 20, 40, 60, 80, 100], "tickCount": 10, "title": "Leukemia-free Survival (%)"}},
                    "color": {"field": "g", "type": "nominal", "scale": {"domain": ["HID", "MSD", "MUD"], "range": ["#1b701b", "#e3262b", "#c8c62d"]},
                      "legend": {"orient": "none", "legendX": 149, "legendY": 101, "title": null, "symbolType": "M-1,0L1,0M0,0L0,-0.5", "labelExpr": "datum.label == 'HID' ? 'HID (n=192)' : datum.label == 'MSD' ? 'MSD (n=29)' : 'MUD (n=20)'"}}}},
                {"data": {"name": "cens"}, "transform": [{"filter": "datum.p == 'B'"}], "mark": {"type": "point", "shape": "M0,0L0,-1", "size": 90, "filled": false, "strokeWidth": 1.4, "opacity": 1},
                  "encoding": {"x": {"field": "t", "type": "quantitative"}, "y": {"field": "v", "type": "quantitative"}, "color": {"field": "g", "type": "nominal", "legend": null}}},
                {"data": {"name": "notes"}, "transform": [{"filter": "datum.p == 'B' && datum.k == 'c'"}], "mark": {"type": "text"},
                  "encoding": {"x": {"field": "t", "type": "quantitative"}, "y": {"field": "v", "type": "quantitative"}, "text": {"field": "txt"}, "fill": {"field": "g", "type": "nominal", "scale": {"domain": ["HID", "MSD", "MUD"], "range": ["#3a8a3a", "#d83b3b", "#c7c13a"]}, "legend": null}}},
                {"data": {"name": "notes"}, "transform": [{"filter": "datum.p == 'B' && datum.k == 'b'"}], "mark": {"type": "text", "color": "#222"}, "encoding": {"x": {"field": "t", "type": "quantitative"}, "y": {"field": "v", "type": "quantitative"}, "text": {"field": "txt"}}},
                {"data": {"name": "notes"}, "transform": [{"filter": "datum.p == 'B' && datum.k == 'i'"}], "mark": {"type": "text", "color": "#222", "fontStyle": "italic", "align": "right"}, "encoding": {"x": {"field": "t", "type": "quantitative"}, "y": {"field": "v", "type": "quantitative"}, "text": {"field": "txt"}}},
                {"data": {"name": "notes"}, "transform": [{"filter": "datum.p == 'B' && datum.k == 'r'"}], "mark": {"type": "text", "color": "#222", "align": "left"}, "encoding": {"x": {"field": "t", "type": "quantitative"}, "y": {"field": "v", "type": "quantitative"}, "text": {"field": "txt"}}}
              ]
            },
            {
              "width": 257, "height": 171,
              "title": {"text": "C", "dx": -22, "offset": -20},
              "layer": [
                {"data": {"values": [{}]}, "mark": {"type": "rule", "color": "#333", "strokeDash": [2, 2], "strokeWidth": 1}, "encoding": {"x": {"datum": 24, "type": "quantitative"}, "y": {"datum": 0, "type": "quantitative"}, "y2": {"datum": 100}}},
                {"data": {"name": "curve"}, "transform": [{"filter": "datum.p == 'C'"}], "mark": {"type": "line", "interpolate": "step-after", "strokeWidth": 2},
                  "encoding": {
                    "x": {"field": "t", "type": "quantitative", "scale": {"domain": [0, 60], "nice": false}, "axis": {"values": [0, 12, 24, 36, 48, 60], "tickCount": 10, "title": "Months after HSCT"}},
                    "y": {"field": "v", "type": "quantitative", "scale": {"domain": [0, 100], "nice": false}, "axis": {"values": [0, 20, 40, 60, 80, 100], "tickCount": 10, "title": "Cumulative Incidence of Relapse(%)"}},
                    "color": {"field": "g", "type": "nominal", "scale": {"domain": ["HID", "MSD", "MUD"], "range": ["#1b701b", "#e3262b", "#c8c62d"]},
                      "legend": {"orient": "none", "legendX": 150, "legendY": 25, "title": null, "symbolType": "M-1,0L1,0M0,0L0,-0.5", "labelExpr": "datum.label == 'HID' ? 'HID (n=192)' : datum.label == 'MSD' ? 'MSD (n=29)' : 'MUD (n=20)'"}}}},
                {"data": {"name": "cens"}, "transform": [{"filter": "datum.p == 'C'"}], "mark": {"type": "point", "shape": "M0,0L0,-1", "size": 90, "filled": false, "strokeWidth": 1.4, "opacity": 1},
                  "encoding": {"x": {"field": "t", "type": "quantitative"}, "y": {"field": "v", "type": "quantitative"}, "color": {"field": "g", "type": "nominal", "legend": null}}},
                {"data": {"name": "notes"}, "transform": [{"filter": "datum.p == 'C' && datum.k == 'c'"}], "mark": {"type": "text"},
                  "encoding": {"x": {"field": "t", "type": "quantitative"}, "y": {"field": "v", "type": "quantitative"}, "text": {"field": "txt"}, "fill": {"field": "g", "type": "nominal", "scale": {"domain": ["HID", "MSD", "MUD"], "range": ["#3a8a3a", "#d83b3b", "#c7c13a"]}, "legend": null}}},
                {"data": {"name": "notes"}, "transform": [{"filter": "datum.p == 'C' && datum.k == 'b'"}], "mark": {"type": "text", "color": "#222"}, "encoding": {"x": {"field": "t", "type": "quantitative"}, "y": {"field": "v", "type": "quantitative"}, "text": {"field": "txt"}}},
                {"data": {"name": "notes"}, "transform": [{"filter": "datum.p == 'C' && datum.k == 'i'"}], "mark": {"type": "text", "color": "#222", "fontStyle": "italic", "align": "right"}, "encoding": {"x": {"field": "t", "type": "quantitative"}, "y": {"field": "v", "type": "quantitative"}, "text": {"field": "txt"}}},
                {"data": {"name": "notes"}, "transform": [{"filter": "datum.p == 'C' && datum.k == 'r'"}], "mark": {"type": "text", "color": "#222", "align": "left"}, "encoding": {"x": {"field": "t", "type": "quantitative"}, "y": {"field": "v", "type": "quantitative"}, "text": {"field": "txt"}}}
              ]
            }
          ]
        },
        {
          "bounds": "flush",
          "spacing": 107,
          "resolve": {"scale": {"color": "independent", "fill": "independent"}},
          "hconcat": [
            {
              "width": 257, "height": 171,
              "title": {"text": "D", "dx": -28, "offset": -9},
              "layer": [
                {"data": {"values": [{}]}, "mark": {"type": "rule", "color": "#333", "strokeDash": [2, 2], "strokeWidth": 1}, "encoding": {"x": {"datum": 24, "type": "quantitative"}, "y": {"datum": 0, "type": "quantitative"}, "y2": {"datum": 100}}},
                {"data": {"name": "curve"}, "transform": [{"filter": "datum.p == 'D'"}], "mark": {"type": "line", "interpolate": "step-after", "strokeWidth": 2},
                  "encoding": {
                    "x": {"field": "t", "type": "quantitative", "scale": {"domain": [0, 60], "nice": false}, "axis": {"values": [0, 12, 24, 36, 48, 60], "tickCount": 10, "title": "Months after HSCT"}},
                    "y": {"field": "v", "type": "quantitative", "scale": {"domain": [0, 100], "nice": false}, "axis": {"values": [0, 20, 40, 60, 80, 100], "tickCount": 10, "title": "Cumulative Incidence of NRM(%)"}},
                    "color": {"field": "g", "type": "nominal", "scale": {"domain": ["HID", "MSD", "MUD"], "range": ["#1b701b", "#e3262b", "#c8c62d"]},
                      "legend": {"orient": "none", "legendX": 150, "legendY": 21, "title": null, "symbolType": "M-1,0L1,0M0,0L0,-0.5", "labelExpr": "datum.label == 'HID' ? 'HID (n=192)' : datum.label == 'MSD' ? 'MSD (n=29)' : 'MUD (n=20)'"}}}},
                {"data": {"name": "cens"}, "transform": [{"filter": "datum.p == 'D'"}], "mark": {"type": "point", "shape": "M0,0L0,-1", "size": 90, "filled": false, "strokeWidth": 1.4, "opacity": 1},
                  "encoding": {"x": {"field": "t", "type": "quantitative"}, "y": {"field": "v", "type": "quantitative"}, "color": {"field": "g", "type": "nominal", "legend": null}}},
                {"data": {"name": "notes"}, "transform": [{"filter": "datum.p == 'D' && datum.k == 'c'"}], "mark": {"type": "text"},
                  "encoding": {"x": {"field": "t", "type": "quantitative"}, "y": {"field": "v", "type": "quantitative"}, "text": {"field": "txt"}, "fill": {"field": "g", "type": "nominal", "scale": {"domain": ["HID", "MSD", "MUD"], "range": ["#3a8a3a", "#d83b3b", "#c7c13a"]}, "legend": null}}},
                {"data": {"name": "notes"}, "transform": [{"filter": "datum.p == 'D' && datum.k == 'b'"}], "mark": {"type": "text", "color": "#222"}, "encoding": {"x": {"field": "t", "type": "quantitative"}, "y": {"field": "v", "type": "quantitative"}, "text": {"field": "txt"}}},
                {"data": {"name": "notes"}, "transform": [{"filter": "datum.p == 'D' && datum.k == 'i'"}], "mark": {"type": "text", "color": "#222", "fontStyle": "italic", "align": "right"}, "encoding": {"x": {"field": "t", "type": "quantitative"}, "y": {"field": "v", "type": "quantitative"}, "text": {"field": "txt"}}},
                {"data": {"name": "notes"}, "transform": [{"filter": "datum.p == 'D' && datum.k == 'r'"}], "mark": {"type": "text", "color": "#222", "align": "left"}, "encoding": {"x": {"field": "t", "type": "quantitative"}, "y": {"field": "v", "type": "quantitative"}, "text": {"field": "txt"}}}
              ]
            },
            {
              "width": 257, "height": 171,
              "title": {"text": "E", "dx": -33, "offset": -15},
              "layer": [
                {"data": {"values": [{}]}, "mark": {"type": "rule", "color": "#333", "strokeDash": [2, 2], "strokeWidth": 1}, "encoding": {"x": {"datum": 24, "type": "quantitative"}, "y": {"datum": 0, "type": "quantitative"}, "y2": {"datum": 100}}},
                {"data": {"name": "curve"}, "transform": [{"filter": "datum.p == 'E'"}], "mark": {"type": "line", "interpolate": "step-after", "strokeWidth": 2},
                  "encoding": {
                    "x": {"field": "t", "type": "quantitative", "scale": {"domain": [0, 60], "nice": false}, "axis": {"values": [0, 12, 24, 36, 48, 60], "tickCount": 10, "title": "Months after HSCT"}},
                    "y": {"field": "v", "type": "quantitative", "scale": {"domain": [0, 100], "nice": false}, "axis": {"values": [0, 20, 40, 60, 80, 100], "tickCount": 10, "title": "Overall survival (%)"}},
                    "color": {"field": "g", "type": "nominal", "scale": {"domain": ["CR1", "≥CR2"], "range": ["#1b701b", "#e3262b"]},
                      "legend": {"orient": "none", "legendX": 152, "legendY": 120, "title": null, "symbolType": "M-1,0L1,0M0,0L0,-0.5", "labelExpr": "datum.label == 'CR1' ? 'CR1 (n=207)' : '≥CR2 (n=34)'"}}}},
                {"data": {"name": "cens"}, "transform": [{"filter": "datum.p == 'E'"}], "mark": {"type": "point", "shape": "M0,0L0,-1", "size": 90, "filled": false, "strokeWidth": 1.4, "opacity": 1},
                  "encoding": {"x": {"field": "t", "type": "quantitative"}, "y": {"field": "v", "type": "quantitative"}, "color": {"field": "g", "type": "nominal", "legend": null}}},
                {"data": {"name": "notes"}, "transform": [{"filter": "datum.p == 'E' && datum.k == 'c'"}], "mark": {"type": "text"},
                  "encoding": {"x": {"field": "t", "type": "quantitative"}, "y": {"field": "v", "type": "quantitative"}, "text": {"field": "txt"}, "fill": {"field": "g", "type": "nominal", "scale": {"domain": ["CR1", "≥CR2"], "range": ["#3a8a3a", "#d83b3b"]}, "legend": null}}},
                {"data": {"name": "notes"}, "transform": [{"filter": "datum.p == 'E' && datum.k == 'b'"}], "mark": {"type": "text", "color": "#222"}, "encoding": {"x": {"field": "t", "type": "quantitative"}, "y": {"field": "v", "type": "quantitative"}, "text": {"field": "txt"}}},
                {"data": {"name": "notes"}, "transform": [{"filter": "datum.p == 'E' && datum.k == 'i'"}], "mark": {"type": "text", "color": "#222", "fontStyle": "italic", "align": "right"}, "encoding": {"x": {"field": "t", "type": "quantitative"}, "y": {"field": "v", "type": "quantitative"}, "text": {"field": "txt"}}},
                {"data": {"name": "notes"}, "transform": [{"filter": "datum.p == 'E' && datum.k == 'r'"}], "mark": {"type": "text", "color": "#222", "align": "left"}, "encoding": {"x": {"field": "t", "type": "quantitative"}, "y": {"field": "v", "type": "quantitative"}, "text": {"field": "txt"}}},
                {"data": {"name": "notes"}, "transform": [{"filter": "datum.p == 'E' && datum.k == 's'"}], "mark": {"type": "text", "color": "#222", "align": "left", "fontSize": 14}, "encoding": {"x": {"field": "t", "type": "quantitative"}, "y": {"field": "v", "type": "quantitative"}, "text": {"field": "txt"}}}
              ]
            },
            {
              "width": 257, "height": 171,
              "title": {"text": "F", "dx": -33, "offset": -13},
              "layer": [
                {"data": {"values": [{}]}, "mark": {"type": "rule", "color": "#333", "strokeDash": [2, 2], "strokeWidth": 1}, "encoding": {"x": {"datum": 24, "type": "quantitative"}, "y": {"datum": 0, "type": "quantitative"}, "y2": {"datum": 100}}},
                {"data": {"name": "curve"}, "transform": [{"filter": "datum.p == 'F'"}], "mark": {"type": "line", "interpolate": "step-after", "strokeWidth": 2},
                  "encoding": {
                    "x": {"field": "t", "type": "quantitative", "scale": {"domain": [0, 60], "nice": false}, "axis": {"values": [0, 12, 24, 36, 48, 60], "tickCount": 10, "title": "Months after HSCT"}},
                    "y": {"field": "v", "type": "quantitative", "scale": {"domain": [0, 100], "nice": false}, "axis": {"values": [0, 20, 40, 60, 80, 100], "tickCount": 10, "title": "Leukemia-free Survival (%)"}},
                    "color": {"field": "g", "type": "nominal", "scale": {"domain": ["CR1", "≥CR2"], "range": ["#1b701b", "#e3262b"]},
                      "legend": {"orient": "none", "legendX": 149, "legendY": 119, "title": null, "symbolType": "M-1,0L1,0M0,0L0,-0.5", "labelExpr": "datum.label == 'CR1' ? 'CR1 (n=207)' : '≥CR2 (n=34)'"}}}},
                {"data": {"name": "cens"}, "transform": [{"filter": "datum.p == 'F'"}], "mark": {"type": "point", "shape": "M0,0L0,-1", "size": 90, "filled": false, "strokeWidth": 1.4, "opacity": 1},
                  "encoding": {"x": {"field": "t", "type": "quantitative"}, "y": {"field": "v", "type": "quantitative"}, "color": {"field": "g", "type": "nominal", "legend": null}}},
                {"data": {"name": "notes"}, "transform": [{"filter": "datum.p == 'F' && datum.k == 'c'"}], "mark": {"type": "text"},
                  "encoding": {"x": {"field": "t", "type": "quantitative"}, "y": {"field": "v", "type": "quantitative"}, "text": {"field": "txt"}, "fill": {"field": "g", "type": "nominal", "scale": {"domain": ["CR1", "≥CR2"], "range": ["#3a8a3a", "#d83b3b"]}, "legend": null}}},
                {"data": {"name": "notes"}, "transform": [{"filter": "datum.p == 'F' && datum.k == 'b'"}], "mark": {"type": "text", "color": "#222"}, "encoding": {"x": {"field": "t", "type": "quantitative"}, "y": {"field": "v", "type": "quantitative"}, "text": {"field": "txt"}}},
                {"data": {"name": "notes"}, "transform": [{"filter": "datum.p == 'F' && datum.k == 'i'"}], "mark": {"type": "text", "color": "#222", "fontStyle": "italic", "align": "right"}, "encoding": {"x": {"field": "t", "type": "quantitative"}, "y": {"field": "v", "type": "quantitative"}, "text": {"field": "txt"}}},
                {"data": {"name": "notes"}, "transform": [{"filter": "datum.p == 'F' && datum.k == 'r'"}], "mark": {"type": "text", "color": "#222", "align": "left"}, "encoding": {"x": {"field": "t", "type": "quantitative"}, "y": {"field": "v", "type": "quantitative"}, "text": {"field": "txt"}}},
                {"data": {"name": "notes"}, "transform": [{"filter": "datum.p == 'F' && datum.k == 's'"}], "mark": {"type": "text", "color": "#222", "align": "left", "fontSize": 14}, "encoding": {"x": {"field": "t", "type": "quantitative"}, "y": {"field": "v", "type": "quantitative"}, "text": {"field": "txt"}}}
              ]
            }
          ]
        }
      ]
    },
    {
      "bounds": "flush",
      "spacing": 106,
      "resolve": {"scale": {"color": "independent", "fill": "independent"}},
      "hconcat": [
        {
          "width": 257, "height": 171,
          "title": {"text": "G", "dx": -30, "offset": -2},
          "layer": [
            {"data": {"values": [{}]}, "mark": {"type": "rule", "color": "#333", "strokeDash": [2, 2], "strokeWidth": 1}, "encoding": {"x": {"datum": 24, "type": "quantitative"}, "y": {"datum": 0, "type": "quantitative"}, "y2": {"datum": 100}}},
            {"data": {"name": "curve"}, "transform": [{"filter": "datum.p == 'G'"}], "mark": {"type": "line", "interpolate": "step-after", "strokeWidth": 2},
              "encoding": {
                "x": {"field": "t", "type": "quantitative", "scale": {"domain": [0, 60], "nice": false}, "axis": {"values": [0, 12, 24, 36, 48, 60], "tickCount": 10, "title": "Months after HSCT"}},
                "y": {"field": "v", "type": "quantitative", "scale": {"domain": [0, 100], "nice": false}, "axis": {"values": [0, 20, 40, 60, 80, 100], "tickCount": 10, "title": "Cumulative Incidence of Relapse(%)"}},
                "color": {"field": "g", "type": "nominal", "scale": {"domain": ["CR1", "≥CR2"], "range": ["#1b701b", "#e3262b"]},
                  "legend": {"orient": "none", "legendX": 154, "legendY": 37, "title": null, "symbolType": "M-1,0L1,0M0,0L0,-0.5", "labelExpr": "datum.label == 'CR1' ? 'CR1 (n=207)' : '≥CR2 (n=34)'"}}}},
            {"data": {"name": "cens"}, "transform": [{"filter": "datum.p == 'G'"}], "mark": {"type": "point", "shape": "M0,0L0,-1", "size": 90, "filled": false, "strokeWidth": 1.4, "opacity": 1},
              "encoding": {"x": {"field": "t", "type": "quantitative"}, "y": {"field": "v", "type": "quantitative"}, "color": {"field": "g", "type": "nominal", "legend": null}}},
            {"data": {"name": "notes"}, "transform": [{"filter": "datum.p == 'G' && datum.k == 'c'"}], "mark": {"type": "text"},
              "encoding": {"x": {"field": "t", "type": "quantitative"}, "y": {"field": "v", "type": "quantitative"}, "text": {"field": "txt"}, "fill": {"field": "g", "type": "nominal", "scale": {"domain": ["CR1", "≥CR2"], "range": ["#3a8a3a", "#d83b3b"]}, "legend": null}}},
            {"data": {"name": "notes"}, "transform": [{"filter": "datum.p == 'G' && datum.k == 'b'"}], "mark": {"type": "text", "color": "#222"}, "encoding": {"x": {"field": "t", "type": "quantitative"}, "y": {"field": "v", "type": "quantitative"}, "text": {"field": "txt"}}},
            {"data": {"name": "notes"}, "transform": [{"filter": "datum.p == 'G' && datum.k == 'i'"}], "mark": {"type": "text", "color": "#222", "fontStyle": "italic", "align": "right"}, "encoding": {"x": {"field": "t", "type": "quantitative"}, "y": {"field": "v", "type": "quantitative"}, "text": {"field": "txt"}}},
            {"data": {"name": "notes"}, "transform": [{"filter": "datum.p == 'G' && datum.k == 'r'"}], "mark": {"type": "text", "color": "#222", "align": "left"}, "encoding": {"x": {"field": "t", "type": "quantitative"}, "y": {"field": "v", "type": "quantitative"}, "text": {"field": "txt"}}},
            {"data": {"name": "notes"}, "transform": [{"filter": "datum.p == 'G' && datum.k == 's'"}], "mark": {"type": "text", "color": "#222", "align": "left", "fontSize": 14}, "encoding": {"x": {"field": "t", "type": "quantitative"}, "y": {"field": "v", "type": "quantitative"}, "text": {"field": "txt"}}}
          ]
        },
        {
          "width": 257, "height": 171,
          "title": {"text": "H", "dx": -33, "offset": -1},
          "layer": [
            {"data": {"values": [{}]}, "mark": {"type": "rule", "color": "#333", "strokeDash": [2, 2], "strokeWidth": 1}, "encoding": {"x": {"datum": 24, "type": "quantitative"}, "y": {"datum": 0, "type": "quantitative"}, "y2": {"datum": 100}}},
            {"data": {"name": "curve"}, "transform": [{"filter": "datum.p == 'H'"}], "mark": {"type": "line", "interpolate": "step-after", "strokeWidth": 2},
              "encoding": {
                "x": {"field": "t", "type": "quantitative", "scale": {"domain": [0, 60], "nice": false}, "axis": {"values": [0, 12, 24, 36, 48, 60], "tickCount": 10, "title": "Months after HSCT"}},
                "y": {"field": "v", "type": "quantitative", "scale": {"domain": [0, 100], "nice": false}, "axis": {"values": [0, 20, 40, 60, 80, 100], "tickCount": 10, "title": "Cumulative Incidence of NRM(%)"}},
                "color": {"field": "g", "type": "nominal", "scale": {"domain": ["CR1", "≥CR2"], "range": ["#1b701b", "#e3262b"]},
                  "legend": {"orient": "none", "legendX": 150, "legendY": 38, "title": null, "symbolType": "M-1,0L1,0M0,0L0,-0.5", "labelExpr": "datum.label == 'CR1' ? 'CR1 (n=207)' : '≥CR2 (n=34)'"}}}},
            {"data": {"name": "cens"}, "transform": [{"filter": "datum.p == 'H'"}], "mark": {"type": "point", "shape": "M0,0L0,-1", "size": 90, "filled": false, "strokeWidth": 1.4, "opacity": 1},
              "encoding": {"x": {"field": "t", "type": "quantitative"}, "y": {"field": "v", "type": "quantitative"}, "color": {"field": "g", "type": "nominal", "legend": null}}},
            {"data": {"name": "notes"}, "transform": [{"filter": "datum.p == 'H' && datum.k == 'c'"}], "mark": {"type": "text"},
              "encoding": {"x": {"field": "t", "type": "quantitative"}, "y": {"field": "v", "type": "quantitative"}, "text": {"field": "txt"}, "fill": {"field": "g", "type": "nominal", "scale": {"domain": ["CR1", "≥CR2"], "range": ["#3a8a3a", "#d83b3b"]}, "legend": null}}},
            {"data": {"name": "notes"}, "transform": [{"filter": "datum.p == 'H' && datum.k == 'b'"}], "mark": {"type": "text", "color": "#222"}, "encoding": {"x": {"field": "t", "type": "quantitative"}, "y": {"field": "v", "type": "quantitative"}, "text": {"field": "txt"}}},
            {"data": {"name": "notes"}, "transform": [{"filter": "datum.p == 'H' && datum.k == 'i'"}], "mark": {"type": "text", "color": "#222", "fontStyle": "italic", "align": "right"}, "encoding": {"x": {"field": "t", "type": "quantitative"}, "y": {"field": "v", "type": "quantitative"}, "text": {"field": "txt"}}},
            {"data": {"name": "notes"}, "transform": [{"filter": "datum.p == 'H' && datum.k == 'r'"}], "mark": {"type": "text", "color": "#222", "align": "left"}, "encoding": {"x": {"field": "t", "type": "quantitative"}, "y": {"field": "v", "type": "quantitative"}, "text": {"field": "txt"}}},
            {"data": {"name": "notes"}, "transform": [{"filter": "datum.p == 'H' && datum.k == 's'"}], "mark": {"type": "text", "color": "#222", "align": "left", "fontSize": 14}, "encoding": {"x": {"field": "t", "type": "quantitative"}, "y": {"field": "v", "type": "quantitative"}, "text": {"field": "txt"}}}
          ]
        }
      ]
    }
  ]
}
